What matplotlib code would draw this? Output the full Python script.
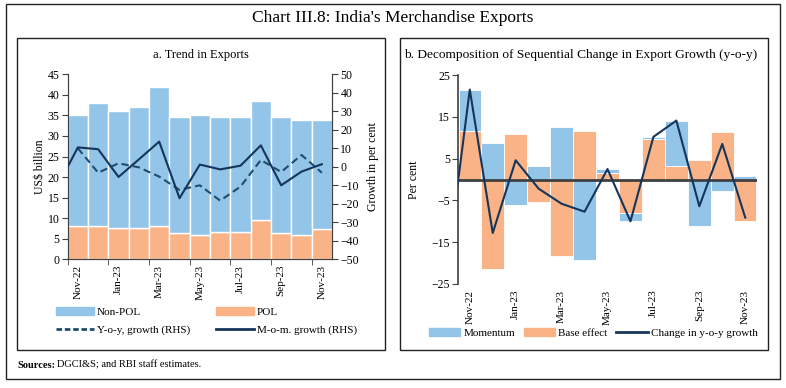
import numpy as np
import matplotlib
matplotlib.use("Agg")
import matplotlib.pyplot as plt
from matplotlib.patches import Rectangle
from matplotlib.lines import Line2D
from matplotlib.patches import Patch

plt.rcParams['font.family'] = ['Liberation Serif', 'DejaVu Serif']

# data
months = ['Nov-22', 'Dec-22', 'Jan-23', 'Feb-23', 'Mar-23', 'Apr-23', 'May-23',
          'Jun-23', 'Jul-23', 'Aug-23', 'Sep-23', 'Oct-23', 'Nov-23']
total_exports = [35.0, 38.1, 36.0, 37.1, 42.0, 34.7, 35.0, 34.5, 34.5, 38.4, 34.5, 33.8, 34.0]
pol = [8.1, 8.2, 7.6, 7.6, 8.2, 6.3, 5.8, 6.6, 6.6, 9.6, 6.3, 5.8, 7.3]
non_pol = [t - p for t, p in zip(total_exports, pol)]
yoy_growth = [10.0, -3.2, 1.9, -0.3, -5.3, -12.5, -10.0, -18.3, -10.7, 3.7, -2.8, 6.4, -3.2]
# m-o-m series includes Oct-22 (drawn just off the left edge)
mom_growth = [-10.5, 10.5, 9.5, -5.5, 4.0, 13.6, -17.0, 1.2, -1.4, 0.6, 11.6, -10.0, -2.6, 1.4]

momentum = [10.0, 8.7, -6.2, 3.3, 12.5, -19.2, 1.0, -2.0, 0.5, 10.8, -11.1, -2.8, 0.9]
base_effect = [11.5, -21.5, 10.8, -5.5, -18.3, 11.5, 1.5, -8.0, 9.7, 3.3, 4.7, 11.3, -10.0]
# change in y-o-y growth, with Oct-22 first
yoy_change = [-21.5, 21.5, -12.8, 4.6, -2.2, -5.8, -7.7, 2.5, -10.0, 10.2, 14.1, -6.4, 8.5, -9.1]

blue = '#92C5E8'
orange = '#F9B386'
navy = '#15355A'
teal = '#1E4D6E'
grey = '#404040'

W, H = 786, 388
fig = plt.figure(figsize=(W / 100, H / 100), dpi=100)


def box(x0, y0, x1, y1, lw=1.0):
    fig.patches.append(Rectangle((x0 / W, 1 - y1 / H), (x1 - x0) / W, (y1 - y0) / H,
                                 transform=fig.transFigure, fill=False,
                                 edgecolor='#222222', linewidth=lw))


box(6, 4, 780, 379)
box(17, 38, 385, 350)
box(400, 38, 768, 350)

fig.text(393 / W, 1 - 18 / H, "Chart III.8: India's Merchandise Exports",
         ha='center', va='center', fontsize=12.5)
fig.text(201 / W, 1 - 55 / H, 'a. Trend in Exports', ha='center', va='center', fontsize=9)
fig.text(581 / W, 1 - 55 / H, 'b. Decomposition of Sequential Change in Export Growth (y-o-y)',
         ha='center', va='center', fontsize=9.6)
fig.text(17 / W, 1 - 365 / H, 'Sources:', ha='left', va='center', fontsize=7.5, fontweight='bold')
fig.text(57 / W, 1 - 365 / H, 'DGCI&S; and RBI staff estimates.', ha='left', va='center', fontsize=7.5)

x = np.arange(len(months))
x_prev = np.arange(-1, len(months))

# ---- panel a
ax = fig.add_axes([67.7 / W, 1 - 259.3 / H, (332 - 67.7) / W, (259.3 - 74.3) / H])
ax.bar(x, pol, width=1.0, color=orange, edgecolor='white', linewidth=1.0, zorder=2)
ax.bar(x, non_pol, bottom=pol, width=1.0, color=blue, edgecolor='white', linewidth=1.0, zorder=2)
ax.set_xlim(-0.5, len(months) - 0.5)
ax.set_ylim(0, 45)
ax.set_yticks(range(0, 46, 5))
ax.set_xticks(x[::2])
ax.set_xticklabels(months[::2], rotation=90)
ax.set_xticks(np.arange(-0.5, len(months), 2), minor=True)
ax.tick_params(axis='x', which='major', length=0, pad=4, labelsize=8)
ax.tick_params(axis='x', which='minor', length=4, color=grey)
ax.tick_params(axis='y', length=4, color=grey, labelsize=8.5, pad=2)
ax.set_ylabel('US$ billion', fontsize=8.5, labelpad=1)
for s in ['top']:
    ax.spines[s].set_visible(False)
for s in ['left', 'right', 'bottom']:
    ax.spines[s].set_color(grey)

ax2 = ax.twinx()
ax2.plot(x, yoy_growth, color=teal, linewidth=1.5, linestyle=(0, (3.5, 2)), zorder=3)
ax2.plot(x_prev, mom_growth, color=navy, linewidth=1.5, zorder=3)
ax2.set_xlim(-0.5, len(months) - 0.5)
ax2.set_ylim(-50, 50)
ax2.set_yticks(range(-50, 51, 10))
ax2.tick_params(axis='y', length=4, color=grey, labelsize=8.5, pad=2)
ax2.set_ylabel('Growth in per cent', fontsize=8.5, labelpad=6)
ax2.spines['top'].set_visible(False)
for s in ['left', 'right', 'bottom']:
    ax2.spines[s].set_color(grey)

# column-major order so the rows read: Non-POL | POL, Y-o-y | M-o-m
handles_a = [Patch(color=blue, label='Non-POL'),
             Line2D([], [], color=teal, lw=2, linestyle=(0, (2, 1)), label='Y-o-y, growth (RHS)'),
             Patch(color=orange, label='POL'),
             Line2D([], [], color=navy, lw=2, label='M-o-m. growth (RHS)')]
fig.legend(handles=handles_a, loc='center left', bbox_to_anchor=(46 / W, 1 - 321 / H),
           ncol=2, frameon=False, fontsize=8, handlelength=3.4, handleheight=0.8,
           columnspacing=2.3, handletextpad=0.3, labelspacing=0.7)

# ---- panel b
bx = fig.add_axes([458.3 / W, 1 - 284 / H, (756.7 - 458.3) / W, (284 - 75) / H])
be = np.array(base_effect)
mo = np.array(momentum)
mo_bottom = np.where(np.sign(mo) == np.sign(be), be, 0)
bx.bar(x, be, width=0.98, color=orange, edgecolor='white', linewidth=0.6, zorder=2)
bx.bar(x, mo, bottom=mo_bottom, width=0.98, color=blue, edgecolor='white', linewidth=0.6, zorder=2)
bx.plot(x_prev, yoy_change, color=navy, linewidth=1.5, zorder=4)
bx.axhline(0, color=grey, linewidth=2, zorder=3)
bx.set_xlim(-0.5, len(months) - 0.5)
bx.set_ylim(-25, 25)
bx.set_yticks(range(-25, 26, 10))
bx.set_xticks(x[::2])
bx.set_xticklabels(months[::2], rotation=90)
bx.tick_params(axis='x', length=0, pad=4, labelsize=8)
bx.tick_params(axis='y', length=4, color=grey, labelsize=8.5, pad=2)
bx.set_ylabel('Per cent', fontsize=8.5, labelpad=8)
for s in ['top', 'right', 'bottom']:
    bx.spines[s].set_visible(False)
bx.spines['left'].set_color(grey)
bx.spines['left'].set_linewidth(1.2)

handles_b = [Patch(color=blue, label='Momentum'), Patch(color=orange, label='Base effect'),
             Line2D([], [], color=navy, lw=2, label='Change in y-o-y growth')]
fig.legend(handles=handles_b, loc='center left', bbox_to_anchor=(419 / W, 1 - 333 / H),
           ncol=3, frameon=False, fontsize=8, handlelength=2.8, handleheight=0.8,
           columnspacing=0.8, handletextpad=0.3)

fig.savefig('out.png', dpi=100)
